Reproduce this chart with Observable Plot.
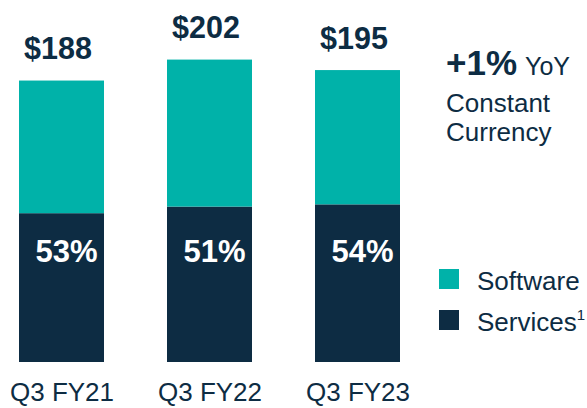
<!DOCTYPE html>
<html>
<head>
<meta charset="utf-8">
<script src="https://cdn.jsdelivr.net/npm/d3@7"></script>
<script src="https://cdn.jsdelivr.net/npm/@observablehq/plot@0.6"></script>
<style>
  html, body { margin: 0; padding: 0; background: #fff; }
  #wrap { position: relative; width: 587px; height: 408px; overflow: hidden; }
  #wrap svg { position: absolute; left: 0; top: 0; }
</style>
</head>
<body>
<div id="wrap"></div>
<script>
const quarters = ["Q3 FY21", "Q3 FY22", "Q3 FY23"];
const totals = [188, 202, 195];
const servicesValues = [99.4, 103.8, 105.3];
const softwareValues = [88.6, 98.2, 89.7];
const servicesShare = ["53%", "51%", "54%"];
const seriesNames = ["Services", "Software"];
const seriesColors = ["#0d2c43", "#00b2a9"];
const legendOrder = ["Software", "Services"];
const growthValue = "+1%";
const growthText = ["YoY", "Constant", "Currency"];

const navy = "#0d2c43";
const font = "Liberation Sans, Arial, Helvetica, sans-serif";

const rows = [];
quarters.forEach((q, i) => {
  rows.push({quarter: q, series: "Services", value: servicesValues[i]});
  rows.push({quarter: q, series: "Software", value: softwareValues[i]});
});
const totalRows = quarters.map((q, i) => ({quarter: q, total: totals[i], share: servicesShare[i]}));

const chart = Plot.plot({
  width: 587,
  height: 408,
  marginLeft: 18,
  marginRight: 186.5,
  marginTop: 0,
  marginBottom: 46,
  style: {fontFamily: font, background: "transparent", color: navy},
  x: {domain: quarters, paddingInner: 0.424, paddingOuter: 0, label: null},
  y: {domain: [0, 241.8], axis: null},
  color: {domain: seriesNames, range: seriesColors},
  marks: [
    Plot.barY(rows, {x: "quarter", y: "value", fill: "series"}),
    Plot.text(totalRows, {
      x: "quarter", y: "total", text: d => "$" + d.total,
      dy: -22, dx: -4, lineAnchor: "bottom",
      fontSize: 30.5, fontWeight: "bold", fill: navy
    }),
    Plot.text(totalRows, {
      x: "quarter", frameAnchor: "bottom", text: "share",
      dy: -101, dx: 4.5, lineAnchor: "bottom",
      fontSize: 31, fontWeight: "bold", fill: "#ffffff"
    }),
    Plot.axisX({tickSize: 0, tickPadding: 20, fontSize: 26, fill: navy, label: null})
  ]
});
document.getElementById("wrap").appendChild(chart);

// Annotation and legend overlay
const overlay = d3.select("#wrap").append("svg")
  .attr("width", 587).attr("height", 408)
  .style("font-family", font);

const g1 = overlay.append("text").attr("x", 446).attr("y", 75).attr("fill", navy);
g1.append("tspan").attr("font-size", 35).attr("font-weight", "bold").text(growthValue);
g1.append("tspan").attr("font-size", 25).attr("dx", 8).text(growthText[0]);
overlay.append("text").attr("x", 446).attr("y", 111.5).attr("fill", navy)
  .attr("font-size", 26).text(growthText[1]);
overlay.append("text").attr("x", 446).attr("y", 140.5).attr("fill", navy)
  .attr("font-size", 26).text(growthText[2]);

legendOrder.forEach((name, i) => {
  const color = seriesColors[seriesNames.indexOf(name)];
  const top = 269 + i * 41;
  overlay.append("rect").attr("x", 439).attr("y", top).attr("width", 20).attr("height", 20).attr("fill", color);
  const t = overlay.append("text").attr("x", 477).attr("y", top + 20.5).attr("fill", navy).attr("font-size", 26);
  t.append("tspan").text(name);
  if (name === "Services") {
    t.append("tspan").attr("font-size", 15).attr("dy", -11).text("1");
  }
});
</script>
</body>
</html>
